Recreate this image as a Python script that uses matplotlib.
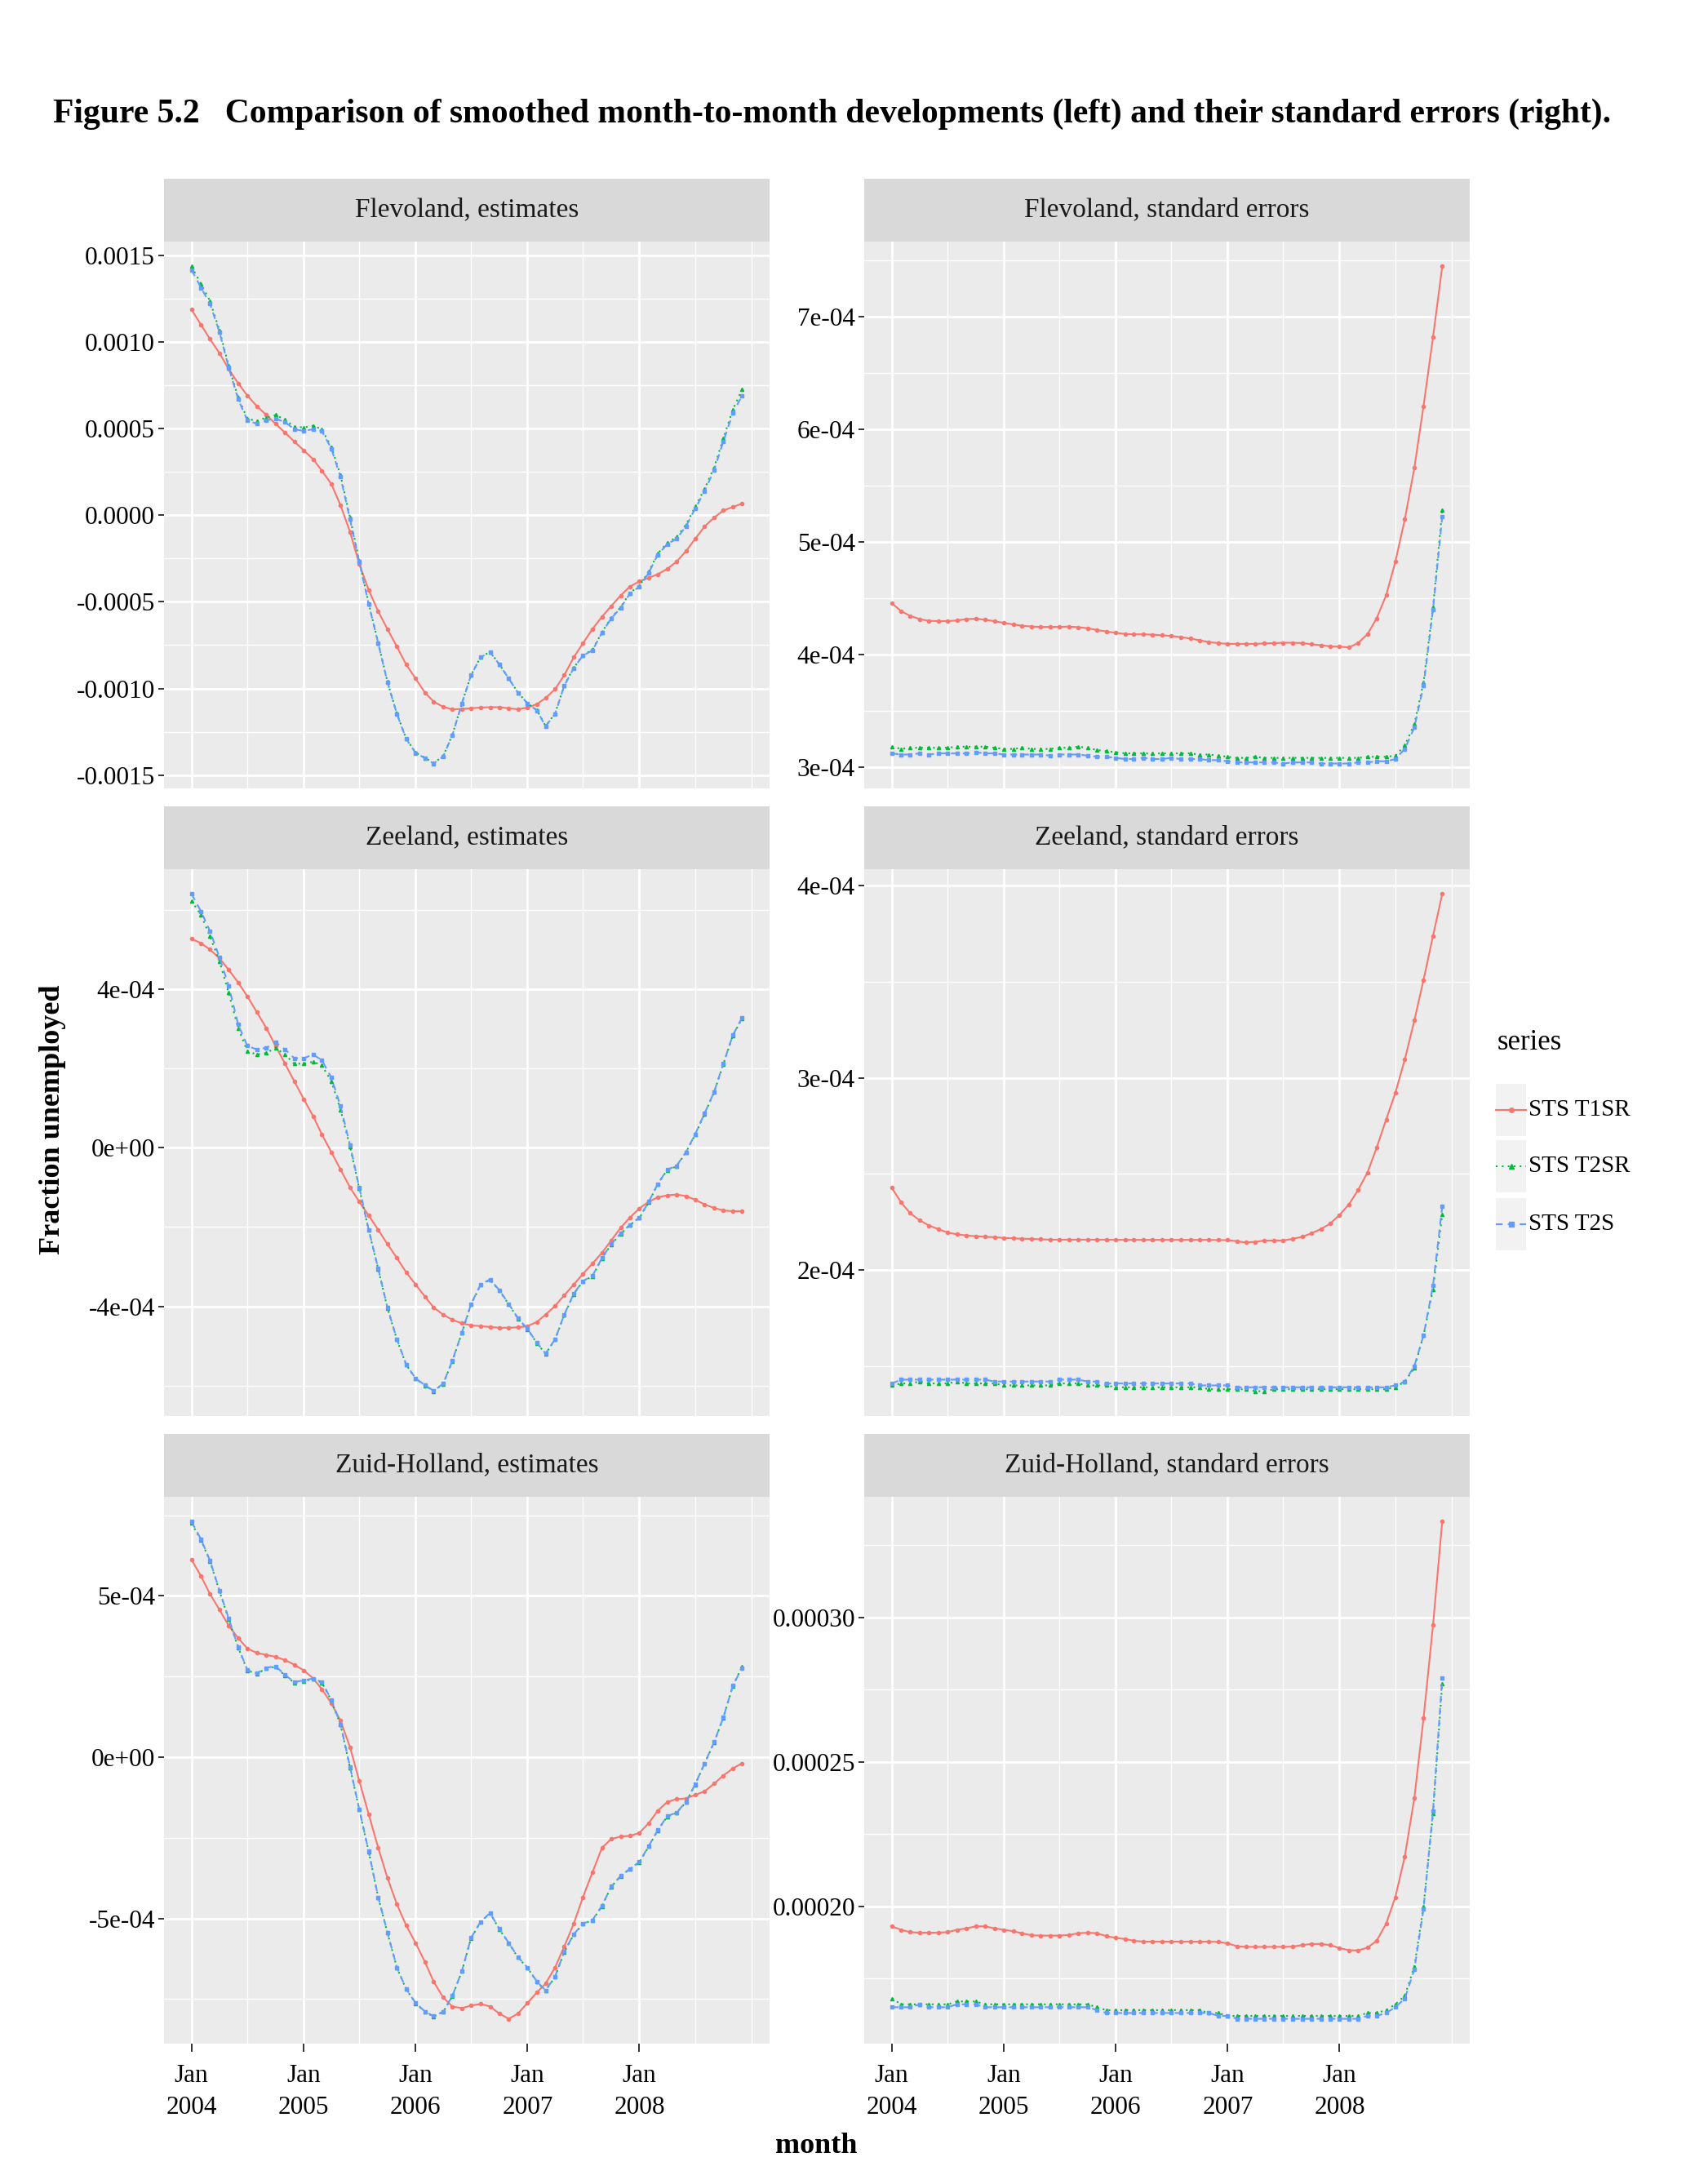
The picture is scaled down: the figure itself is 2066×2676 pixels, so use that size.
import numpy as np
import pandas as pd
import matplotlib
matplotlib.use("Agg")
import matplotlib.pyplot as plt
from matplotlib.patches import Rectangle
from matplotlib.lines import Line2D

plt.rcParams['font.family'] = ['Liberation Serif', 'DejaVu Serif']

# monthly series, Jan 2004 - Dec 2008
months = pd.date_range('2004-01-01', periods=60, freq='MS')
series_names = ['STS T1SR', 'STS T2SR', 'STS T2S']
series_colors = ['#F8766D', '#00BA38', '#619CFF']
series_markers = ['o', '^', 's']
series_styles = ['-', (0, (1, 2.5)), (0, (4, 3))]

# all values below are in units of 1e-4
unit = 1e-4

# Flevoland, estimates
fl_est_t1sr = [11.86, 10.98, 10.16, 9.35, 8.43, 7.61, 6.90, 6.29, 5.78, 5.27,
               4.76, 4.25, 3.74, 3.22, 2.57, 1.80, 0.57, -0.96, -2.80, -4.33,
               -5.55, -6.57, -7.59, -8.61, -9.43, -10.25, -10.76, -11.06, -11.20, -11.18,
               -11.14, -11.10, -11.08, -11.08, -11.14, -11.20, -11.10, -10.90, -10.55, -10.04,
               -9.23, -8.20, -7.39, -6.57, -5.86, -5.25, -4.63, -4.12, -3.82, -3.61,
               -3.41, -3.10, -2.69, -2.08, -1.37, -0.65, -0.14, 0.27, 0.47, 0.67]
fl_est_t2sr = [14.35, 13.33, 12.37, 10.67, 8.63, 6.80, 5.57, 5.43, 5.63, 5.78,
               5.51, 5.10, 5.06, 5.16, 4.96, 3.94, 2.31, -0.14, -2.62, -5.10,
               -7.36, -9.60, -11.45, -12.88, -13.70, -14.00, -14.30, -13.90, -12.67, -10.85,
               -9.22, -8.19, -7.89, -8.60, -9.42, -10.24, -10.85, -11.26, -12.16, -11.45,
               -9.82, -8.80, -8.08, -7.77, -6.75, -5.93, -5.31, -4.49, -4.07, -3.25,
               -2.22, -1.59, -1.28, -0.55, 0.48, 1.52, 2.76, 4.42, 6.09, 7.25]
fl_est_t2s = [14.14, 13.12, 12.20, 10.57, 8.53, 6.69, 5.47, 5.27, 5.47, 5.57,
              5.37, 4.96, 4.86, 4.96, 4.86, 3.84, 2.20, -0.24, -2.69, -5.14,
              -7.39, -9.63, -11.47, -12.90, -13.72, -14.02, -14.33, -13.92, -12.69, -10.86,
              -9.23, -8.20, -7.90, -8.61, -9.43, -10.25, -10.86, -11.27, -12.18, -11.47,
              -9.84, -8.82, -8.10, -7.80, -6.78, -5.96, -5.35, -4.53, -4.12, -3.31,
              -2.29, -1.67, -1.37, -0.65, 0.37, 1.39, 2.61, 4.25, 5.88, 6.90]

# Flevoland, standard errors
fl_se_t1sr = [4.455, 4.383, 4.342, 4.313, 4.298, 4.295, 4.295, 4.301, 4.313, 4.317,
              4.307, 4.295, 4.279, 4.266, 4.254, 4.247, 4.244, 4.244, 4.244, 4.247,
              4.241, 4.232, 4.216, 4.203, 4.191, 4.181, 4.178, 4.178, 4.175, 4.169,
              4.163, 4.153, 4.141, 4.125, 4.109, 4.100, 4.093, 4.093, 4.093, 4.093,
              4.097, 4.100, 4.103, 4.103, 4.100, 4.090, 4.081, 4.071, 4.068, 4.062,
              4.100, 4.178, 4.320, 4.524, 4.822, 5.200, 5.655, 6.205, 6.818, 7.446]
fl_se_t2sr = [3.18, 3.16, 3.17, 3.17, 3.17, 3.17, 3.17, 3.18, 3.18, 3.18, 3.18, 3.17,
              3.16, 3.16, 3.17, 3.16, 3.16, 3.16, 3.17, 3.17, 3.18, 3.17, 3.15, 3.14,
              3.13, 3.12, 3.12, 3.12, 3.12, 3.12, 3.12, 3.12, 3.12, 3.11, 3.11, 3.10,
              3.09, 3.08, 3.08, 3.09, 3.08, 3.08, 3.08, 3.08, 3.08, 3.08, 3.08, 3.08,
              3.08, 3.08, 3.08, 3.09, 3.09, 3.09, 3.10, 3.19, 3.38, 3.75, 4.42, 5.28]
fl_se_t2s = [3.12, 3.11, 3.11, 3.12, 3.11, 3.12, 3.12, 3.12, 3.12, 3.13, 3.12, 3.12,
             3.11, 3.11, 3.11, 3.11, 3.11, 3.10, 3.11, 3.11, 3.11, 3.10, 3.09, 3.09,
             3.08, 3.07, 3.07, 3.08, 3.07, 3.07, 3.08, 3.07, 3.07, 3.07, 3.06, 3.06,
             3.05, 3.04, 3.04, 3.04, 3.04, 3.04, 3.03, 3.04, 3.04, 3.04, 3.03, 3.03,
             3.03, 3.03, 3.04, 3.04, 3.05, 3.05, 3.07, 3.16, 3.35, 3.72, 4.40, 5.22]

# Zeeland, estimates
ze_est_t1sr = [5.27, 5.16, 5.00, 4.78, 4.49, 4.17, 3.82, 3.42, 3.02, 2.57,
               2.12, 1.68, 1.23, 0.79, 0.34, -0.11, -0.55, -1.00, -1.36, -1.71,
               -2.07, -2.43, -2.78, -3.14, -3.45, -3.76, -4.03, -4.21, -4.34, -4.43,
               -4.48, -4.50, -4.52, -4.54, -4.54, -4.53, -4.50, -4.39, -4.21, -3.99,
               -3.72, -3.45, -3.18, -2.92, -2.65, -2.34, -2.02, -1.76, -1.53, -1.36,
               -1.25, -1.20, -1.18, -1.22, -1.31, -1.43, -1.52, -1.58, -1.60, -1.60]
ze_est_t2sr = [6.23, 5.87, 5.33, 4.71, 3.91, 3.02, 2.44, 2.35, 2.39, 2.52,
               2.35, 2.12, 2.12, 2.17, 2.08, 1.68, 0.96, 0.03, -1.02, -2.08,
               -3.06, -4.04, -4.84, -5.47, -5.83, -6.00, -6.14, -5.96, -5.38, -4.67,
               -3.95, -3.46, -3.33, -3.60, -3.95, -4.31, -4.58, -4.93, -5.20, -4.84,
               -4.22, -3.69, -3.37, -3.24, -2.79, -2.44, -2.17, -1.95, -1.77, -1.37,
               -0.92, -0.56, -0.47, -0.12, 0.33, 0.86, 1.40, 2.11, 2.83, 3.26]
ze_est_t2s = [6.40, 5.96, 5.47, 4.80, 4.09, 3.11, 2.57, 2.48, 2.52, 2.66,
              2.48, 2.26, 2.26, 2.35, 2.21, 1.77, 1.05, 0.07, -1.00, -2.07,
              -3.05, -4.03, -4.83, -5.46, -5.82, -5.99, -6.13, -5.95, -5.37, -4.66,
              -3.94, -3.45, -3.32, -3.59, -3.94, -4.30, -4.57, -4.92, -5.19, -4.83,
              -4.21, -3.68, -3.36, -3.23, -2.78, -2.43, -2.16, -1.94, -1.76, -1.36,
              -0.91, -0.55, -0.46, -0.11, 0.34, 0.87, 1.41, 2.12, 2.84, 3.28]

# Zeeland, standard errors
ze_se_t1sr = [2.428, 2.351, 2.296, 2.259, 2.232, 2.213, 2.195, 2.186, 2.180, 2.176,
              2.173, 2.171, 2.167, 2.165, 2.163, 2.162, 2.160, 2.158, 2.158, 2.158,
              2.158, 2.158, 2.158, 2.158, 2.157, 2.157, 2.157, 2.157, 2.157, 2.157,
              2.157, 2.157, 2.157, 2.157, 2.157, 2.156, 2.156, 2.150, 2.143, 2.147,
              2.153, 2.154, 2.154, 2.162, 2.173, 2.191, 2.213, 2.241, 2.287, 2.342,
              2.415, 2.507, 2.636, 2.783, 2.921, 3.096, 3.298, 3.509, 3.739, 3.956]
ze_se_t2sr = [1.40, 1.41, 1.41, 1.42, 1.41, 1.41, 1.41, 1.42, 1.41, 1.41, 1.41, 1.41,
              1.40, 1.40, 1.40, 1.40, 1.40, 1.40, 1.41, 1.41, 1.41, 1.40, 1.40, 1.40,
              1.39, 1.39, 1.39, 1.39, 1.39, 1.39, 1.39, 1.39, 1.39, 1.39, 1.38, 1.38,
              1.38, 1.38, 1.38, 1.37, 1.37, 1.38, 1.38, 1.38, 1.38, 1.38, 1.38, 1.38,
              1.38, 1.38, 1.38, 1.38, 1.38, 1.38, 1.39, 1.42, 1.49, 1.66, 1.90, 2.29]
ze_se_t2s = [1.41, 1.43, 1.43, 1.43, 1.43, 1.43, 1.43, 1.43, 1.43, 1.43, 1.43, 1.42,
             1.42, 1.42, 1.42, 1.42, 1.42, 1.42, 1.43, 1.43, 1.43, 1.42, 1.42, 1.41,
             1.41, 1.41, 1.41, 1.41, 1.41, 1.41, 1.41, 1.41, 1.41, 1.40, 1.40, 1.40,
             1.40, 1.39, 1.39, 1.39, 1.39, 1.39, 1.39, 1.39, 1.39, 1.39, 1.39, 1.39,
             1.39, 1.39, 1.39, 1.39, 1.39, 1.39, 1.40, 1.42, 1.50, 1.66, 1.92, 2.33]

# Zuid-Holland, estimates
zh_est_t1sr = [6.12, 5.61, 5.06, 4.57, 4.08, 3.69, 3.37, 3.23, 3.17, 3.11,
               3.01, 2.87, 2.69, 2.44, 2.11, 1.67, 1.13, 0.31, -0.73, -1.77,
               -2.81, -3.74, -4.56, -5.21, -5.76, -6.36, -6.96, -7.45, -7.73, -7.78,
               -7.70, -7.65, -7.73, -7.95, -8.11, -7.95, -7.62, -7.29, -7.02, -6.52,
               -5.87, -5.16, -4.34, -3.57, -2.81, -2.54, -2.46, -2.44, -2.35, -2.04,
               -1.66, -1.39, -1.30, -1.28, -1.17, -1.06, -0.82, -0.57, -0.35, -0.19]
zh_est_t2sr = [7.25, 6.72, 6.08, 5.15, 4.28, 3.40, 2.69, 2.58, 2.75, 2.80,
               2.53, 2.31, 2.36, 2.42, 2.31, 1.76, 1.00, -0.32, -1.62, -2.93,
               -4.35, -5.44, -6.53, -7.19, -7.63, -7.90, -8.04, -7.90, -7.41, -6.64,
               -5.61, -5.11, -4.84, -5.33, -5.77, -6.21, -6.53, -6.97, -7.24, -6.81,
               -6.04, -5.50, -5.17, -5.06, -4.62, -4.02, -3.69, -3.47, -3.26, -2.76,
               -2.27, -1.84, -1.73, -1.40, -0.85, -0.20, 0.46, 1.22, 2.21, 2.80]
zh_est_t2s = [7.30, 6.75, 6.10, 5.17, 4.30, 3.42, 2.71, 2.60, 2.77, 2.82,
              2.55, 2.33, 2.38, 2.44, 2.33, 1.78, 1.02, -0.30, -1.61, -2.92,
              -4.34, -5.43, -6.52, -7.18, -7.62, -7.89, -8.03, -7.89, -7.40, -6.63,
              -5.60, -5.10, -4.83, -5.32, -5.76, -6.20, -6.52, -6.96, -7.23, -6.80,
              -6.03, -5.49, -5.16, -5.05, -4.61, -4.01, -3.68, -3.46, -3.25, -2.75,
              -2.26, -1.83, -1.72, -1.39, -0.84, -0.19, 0.47, 1.23, 2.22, 2.77]

# Zuid-Holland, standard errors
zh_se_t1sr = [1.930, 1.918, 1.910, 1.908, 1.908, 1.908, 1.910, 1.918, 1.923, 1.930,
              1.930, 1.923, 1.918, 1.913, 1.906, 1.899, 1.898, 1.898, 1.898, 1.900,
              1.906, 1.908, 1.906, 1.896, 1.890, 1.886, 1.880, 1.877, 1.877, 1.877,
              1.877, 1.877, 1.877, 1.877, 1.877, 1.876, 1.871, 1.861, 1.859, 1.859,
              1.859, 1.859, 1.859, 1.860, 1.865, 1.869, 1.869, 1.865, 1.855, 1.847,
              1.847, 1.856, 1.880, 1.939, 2.031, 2.172, 2.374, 2.650, 2.973, 3.331]
zh_se_t2sr = [1.68, 1.66, 1.66, 1.66, 1.66, 1.66, 1.66, 1.67, 1.67, 1.67, 1.66, 1.66,
              1.66, 1.66, 1.66, 1.66, 1.66, 1.66, 1.66, 1.66, 1.66, 1.66, 1.65, 1.64,
              1.64, 1.64, 1.64, 1.64, 1.64, 1.64, 1.64, 1.64, 1.64, 1.64, 1.63, 1.63,
              1.62, 1.62, 1.62, 1.62, 1.62, 1.62, 1.62, 1.62, 1.62, 1.62, 1.62, 1.62,
              1.62, 1.62, 1.62, 1.63, 1.63, 1.64, 1.66, 1.69, 1.79, 2.00, 2.32, 2.77]
zh_se_t2s = [1.65, 1.65, 1.65, 1.66, 1.65, 1.65, 1.65, 1.66, 1.66, 1.66, 1.65, 1.65,
             1.65, 1.65, 1.65, 1.65, 1.65, 1.65, 1.65, 1.65, 1.65, 1.65, 1.64, 1.63,
             1.63, 1.63, 1.63, 1.63, 1.63, 1.63, 1.63, 1.63, 1.63, 1.63, 1.63, 1.62,
             1.62, 1.61, 1.61, 1.61, 1.61, 1.61, 1.61, 1.61, 1.61, 1.61, 1.61, 1.61,
             1.61, 1.61, 1.61, 1.62, 1.62, 1.63, 1.65, 1.68, 1.78, 1.99, 2.33, 2.79]

strip_titles = ['Flevoland, estimates', 'Flevoland, standard errors',
                'Zeeland, estimates', 'Zeeland, standard errors',
                'Zuid-Holland, estimates', 'Zuid-Holland, standard errors']

# y axis breaks per panel (same 1e-4 units)
ytick_vals = [[15, 10, 5, 0, -5, -10, -15], [3, 4, 5, 6, 7],
              [-4, 0, 4], [2, 3, 4],
              [-5, 0, 5], [2.0, 2.5, 3.0]]
ytick_labels = [['0.0015', '0.0010', '0.0005', '0.0000', '-0.0005', '-0.0010', '-0.0015'],
                ['3e-04', '4e-04', '5e-04', '6e-04', '7e-04'],
                ['-4e-04', '0e+00', '4e-04'], ['2e-04', '3e-04', '4e-04'],
                ['-5e-04', '0e+00', '5e-04'], ['0.00020', '0.00025', '0.00030']]
yminor_vals = [[12.5, 7.5, 2.5, -2.5, -7.5, -12.5], [3.5, 4.5, 5.5, 6.5, 7.5],
               [-6, -2, 2, 6], [1.5, 2.5, 3.5],
               [-7.5, -2.5, 2.5, 7.5], [1.75, 2.25, 2.75, 3.25]]

xtick_dates = pd.to_datetime(['2004-01-01', '2005-01-01', '2006-01-01', '2007-01-01', '2008-01-01'])
xtick_labels = ['Jan\n2004', 'Jan\n2005', 'Jan\n2006', 'Jan\n2007', 'Jan\n2008']
xminor_dates = pd.to_datetime(['2004-07-01', '2005-07-01', '2006-07-01', '2007-07-01',
                               '2008-07-01', '2009-01-01'])

panels = [(fl_est_t1sr, fl_est_t2sr, fl_est_t2s), (fl_se_t1sr, fl_se_t2sr, fl_se_t2s),
          (ze_est_t1sr, ze_est_t2sr, ze_est_t2s), (ze_se_t1sr, ze_se_t2sr, ze_se_t2s),
          (zh_est_t1sr, zh_est_t2sr, zh_est_t2s), (zh_se_t1sr, zh_se_t2sr, zh_se_t2s)]

# layout in pixels
W, H = 2066, 2676
col_left = [201, 1059]
col_w = 742
row_top = [296, 1065, 1834]
panel_h = 670
strip_h = 77


def fig_rect(x, y, w, h):
    return [x / W, 1 - (y + h) / H, w / W, h / H]


fig = plt.figure(figsize=(W / 100, H / 100), dpi=100)

for i, data in enumerate(panels):
    r, c = divmod(i, 2)
    ax = fig.add_axes(fig_rect(col_left[c], row_top[r], col_w, panel_h))
    ax.set_facecolor('#EBEBEB')
    for s, vals in enumerate(data):
        ax.plot(months, np.array(vals) * unit, color=series_colors[s],
                linestyle=series_styles[s], linewidth=1.5,
                marker=series_markers[s], markersize=3, zorder=3 + s)

    allv = np.concatenate([np.array(v) for v in data]) * unit
    pad = 0.05 * (allv.max() - allv.min())
    ax.set_ylim(allv.min() - pad, allv.max() + pad)

    ax.set_yticks(np.array(ytick_vals[i]) * unit)
    ax.set_yticklabels(ytick_labels[i])
    ax.set_yticks(np.array(yminor_vals[i]) * unit, minor=True)
    ax.set_xticks(xtick_dates)
    ax.set_xticks(xminor_dates, minor=True)
    if r == 2:
        ax.set_xticklabels(xtick_labels, linespacing=1.45)
        ax.tick_params(axis='x', which='major', length=7, width=1.4, color='#333333',
                       labelsize=22.5, pad=11)
    else:
        ax.tick_params(axis='x', which='major', length=0, labelbottom=False)
    ax.tick_params(axis='y', which='major', length=5, width=1.4, color='#333333',
                   labelsize=22.5, pad=3)
    ax.tick_params(which='minor', length=0)

    ax.grid(True, which='major', color='white', linewidth=2.0)
    ax.grid(True, which='minor', color='white', linewidth=1.0)
    ax.set_axisbelow(True)
    for sp in ax.spines.values():
        sp.set_visible(False)

    # facet strip
    ax.add_patch(Rectangle((0, 1), 1, strip_h / panel_h, transform=ax.transAxes,
                           clip_on=False, facecolor='#D9D9D9', edgecolor='none'))
    ax.text(0.5, 1 + strip_h / 2 / panel_h, strip_titles[i], transform=ax.transAxes,
            ha='center', va='center', fontsize=24, color='#1A1A1A')

fig.text(65 / W, 1 - 140 / H,
         'Figure 5.2   Comparison of smoothed month-to-month developments (left) and their standard errors (right).',
         ha='left', va='center', fontsize=30, fontweight='bold')
fig.text(1000 / W, 1 - 2629 / H, 'month', ha='center', va='center',
         fontsize=26, fontweight='bold')
fig.text(65 / W, 1 - 1372 / H, 'Fraction unemployed', ha='center', va='center',
         rotation=90, fontsize=26, fontweight='bold')

# legend, drawn by hand to get the grey key boxes
fig.text(1835 / W, 1 - 1277 / H, 'series', ha='left', va='center', fontsize=25)
key_y = [1360, 1429, 1500]
for s, name in enumerate(series_names):
    yc = 1 - key_y[s] / H
    fig.add_artist(Rectangle((1833 / W, yc - 32 / H), 37 / W, 64 / H,
                             transform=fig.transFigure, facecolor='#F2F2F2', edgecolor='none'))
    fig.add_artist(Line2D([1833 / W, 1870 / W], [yc, yc], transform=fig.transFigure,
                          color=series_colors[s], linestyle=series_styles[s], linewidth=1.5))
    fig.add_artist(Line2D([1851.5 / W], [yc], transform=fig.transFigure,
                          color=series_colors[s], marker=series_markers[s], markersize=4))
    fig.text(1873 / W, yc, name, ha='left', va='center', fontsize=21)

fig.savefig('out.png', dpi=100, facecolor='white')
